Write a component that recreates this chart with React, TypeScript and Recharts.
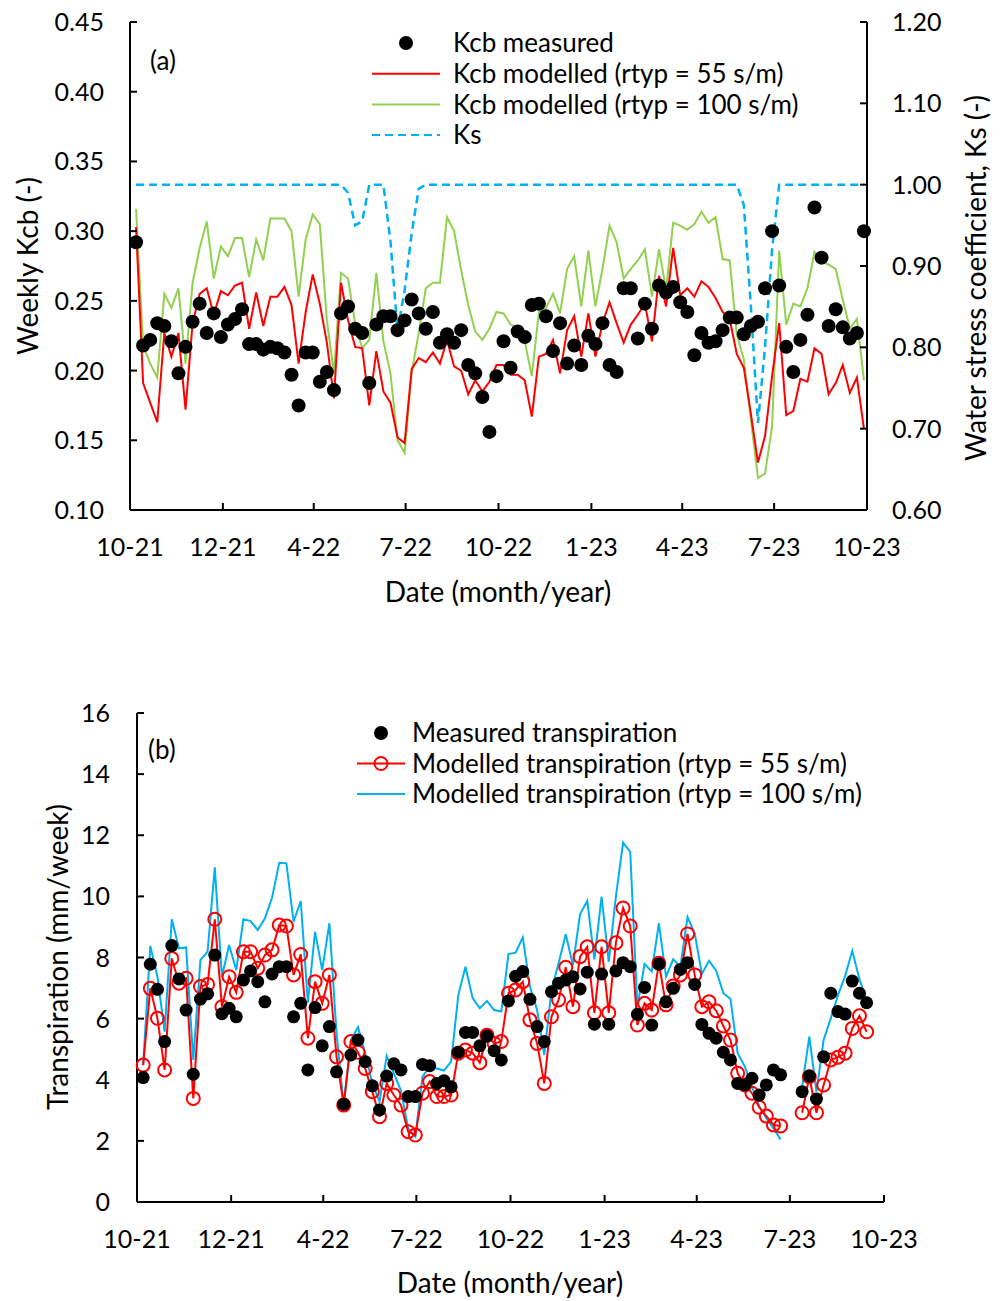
import React from 'react';
import { ComposedChart, Line, XAxis, YAxis, Customized } from 'recharts';

const FONT = 'Lato, "Open Sans", sans-serif';

// x axis is in days since 1 Oct 2021, quarterly ticks
const dateTicks = [0, 92, 182, 273, 365, 457, 547, 638, 730];
const dateLabels = ['10-21', '12-21', '4-22', '7-22', '10-22', '1-23', '4-23', '7-23', '10-23'];
const firstDay = 6; // first weekly value

// panel (a): weekly Kcb
const kcbTicks = [0.1, 0.15, 0.2, 0.25, 0.3, 0.35, 0.4, 0.45];
const ksTicks = [0.6, 0.7, 0.8, 0.9, 1.0, 1.1, 1.2];

const kcbMeasured = [
  0.292, 0.218, 0.222, 0.234, 0.232, 0.221, 0.198, 0.217, 0.235, 0.248,
  0.227, 0.241, 0.224, 0.233, 0.237, 0.244, 0.219, 0.219, 0.215, 0.217,
  0.216, 0.213, 0.197, 0.175, 0.213, 0.213, 0.192, 0.199, 0.186, 0.241,
  0.246, 0.230, 0.227, 0.191, 0.233, 0.239, 0.239, 0.229, 0.236, 0.251,
  0.241, 0.230, 0.242, 0.220, 0.226, 0.220, 0.229, 0.204, 0.198, 0.181,
  0.156, 0.196, 0.221, 0.202, 0.228, 0.224, 0.247, 0.248, 0.239, 0.214,
  0.234, 0.205, 0.218, 0.204, 0.225, 0.219, 0.234, 0.204, 0.199, 0.259,
  0.259, 0.223, 0.248, 0.230, 0.261, 0.256, 0.260, 0.249, 0.242, 0.211,
  0.227, 0.220, 0.221, 0.229, 0.238, 0.238, 0.226, 0.232, 0.235, 0.259,
  0.300, 0.261, 0.217, 0.199, 0.222, 0.240, 0.317, 0.281, 0.232, 0.244,
  0.231, 0.223, 0.227, 0.300,
];

const kcbModel55 = [
  0.303, 0.191, 0.177, 0.163, 0.227, 0.210, 0.227, 0.172, 0.234, 0.255,
  0.259, 0.240, 0.257, 0.254, 0.261, 0.263, 0.230, 0.256, 0.232, 0.253,
  0.253, 0.260, 0.247, 0.205, 0.242, 0.269, 0.248, 0.220, 0.180, 0.263,
  0.236, 0.217, 0.216, 0.175, 0.214, 0.185, 0.177, 0.152, 0.148, 0.201,
  0.209, 0.206, 0.213, 0.205, 0.222, 0.203, 0.200, 0.183, 0.193, 0.185,
  0.192, 0.204, 0.204, 0.197, 0.197, 0.193, 0.167, 0.210, 0.212, 0.222,
  0.198, 0.229, 0.239, 0.210, 0.241, 0.210, 0.234, 0.249, 0.234, 0.220,
  0.233, 0.240, 0.248, 0.221, 0.268, 0.246, 0.288, 0.254, 0.259, 0.253,
  0.264, 0.260, 0.252, 0.242, 0.237, 0.212, 0.202, 0.169, 0.134, 0.153,
  0.196, 0.234, 0.168, 0.171, 0.194, 0.192, 0.216, 0.212, 0.183, 0.191,
  0.204, 0.184, 0.195, 0.158,
];

const kcbModel100 = [
  0.316, 0.218, 0.205, 0.195, 0.255, 0.245, 0.259, 0.205, 0.263, 0.288,
  0.307, 0.266, 0.289, 0.282, 0.295, 0.295, 0.267, 0.294, 0.279, 0.309,
  0.309, 0.309, 0.300, 0.253, 0.294, 0.312, 0.305, 0.236, 0.198, 0.270,
  0.266, 0.234, 0.216, 0.222, 0.270, 0.221, 0.198, 0.150, 0.141, 0.199,
  0.227, 0.259, 0.263, 0.263, 0.310, 0.300, 0.272, 0.247, 0.228, 0.222,
  0.230, 0.242, 0.241, 0.233, 0.231, 0.221, 0.196, 0.242, 0.245, 0.255,
  0.241, 0.273, 0.282, 0.246, 0.286, 0.246, 0.273, 0.304, 0.292, 0.266,
  0.273, 0.279, 0.287, 0.253, 0.287, 0.258, 0.306, 0.304, 0.301, 0.305,
  0.314, 0.306, 0.310, 0.280, 0.279, 0.226, 0.208, 0.165, 0.123, 0.126,
  0.160, 0.286, 0.233, 0.248, 0.246, 0.259, 0.285, 0.278, 0.276, 0.273,
  0.251, 0.230, 0.237, 0.193,
];

const ksValues = [
  1, 1, 1, 1, 1, 1, 1, 1, 1, 1,
  1, 1, 1, 1, 1, 1, 1, 1, 1, 1,
  1, 1, 1, 1, 1, 1, 1, 1, 1, 1,
  0.99, 0.95, 0.955, 1, 1, 1, 0.93, 0.82, 0.87, 0.94,
  0.995, 1, 1, 1, 1, 1, 1, 1, 1, 1,
  1, 1, 1, 1, 1, 1, 1, 1, 1, 1,
  1, 1, 1, 1, 1, 1, 1, 1, 1, 1,
  1, 1, 1, 1, 1, 1, 1, 1, 1, 1,
  1, 1, 1, 1, 1, 1, 0.975, 0.85, 0.707, 0.8,
  0.92, 1, 1, 1, 1, 1, 1, 1, 1, 1,
  1, 1, 1, 1,
];

// panel (b): weekly transpiration, mm/week (null = no data)
const transTicks = [0, 2, 4, 6, 8, 10, 12, 14, 16];

const transMeasured = [
  4.07, 7.78, 6.96, 5.25, 8.39, 7.30, 6.28, 4.18, 6.64, 6.81,
  8.08, 6.16, 6.34, 6.06, 7.26, 7.56, 7.21, 6.55, 7.46, 7.70,
  7.70, 6.06, 6.50, 4.32, 6.36, 5.11, 5.74, 4.26, 3.20, 4.81,
  5.30, 4.59, 3.80, 3.01, 4.12, 4.52, 4.32, 3.45, 3.45, 4.50,
  4.46, 3.88, 3.97, 3.77, 4.90, 5.55, 5.55, 5.11, 5.43, 4.95,
  4.65, 6.58, 7.39, 7.54, 6.63, 5.74, 5.25, 6.88, 7.16, 7.26,
  7.37, 6.97, 7.52, 5.82, 7.46, 5.82, 7.56, 7.83, 7.70, 6.14,
  7.02, 5.79, 7.79, 6.55, 6.99, 7.61, 7.83, 7.12, 5.81, 5.52,
  5.36, 4.90, 4.65, 3.88, 3.83, 4.05, 3.50, 3.83, 4.32, 4.16,
  null, null, 3.61, 4.12, 3.37, 4.75, 6.83, 6.23, 6.15, 7.23,
  6.83, 6.52,
];

const transModel55 = [
  4.48, 6.99, 6.01, 4.32, 7.97, 7.16, 7.32, 3.39, 7.05, 7.12,
  9.25, 6.39, 7.37, 6.86, 8.19, 8.19, 7.65, 8.08, 8.25, 9.06,
  9.03, 7.43, 8.10, 5.36, 7.21, 6.50, 7.43, 4.75, 3.17, 5.25,
  4.90, 4.37, 3.61, 2.79, 3.88, 3.50, 3.17, 2.30, 2.19, 3.56,
  3.94, 3.45, 3.45, 3.50, 4.87, 4.97, 4.87, 4.56, 5.46, 5.19,
  5.25, 6.83, 6.94, 7.21, 5.96, 5.19, 3.88, 6.06, 6.61, 7.68,
  6.39, 8.03, 8.35, 6.19, 8.35, 6.19, 8.48, 9.62, 9.03, 5.79,
  6.50, 6.28, 7.81, 6.45, 7.07, 7.43, 8.77, 7.43, 6.39, 6.55,
  6.26, 5.76, 5.30, 4.21, 3.83, 3.56, 3.10, 2.81, 2.52, 2.49,
  null, null, 2.92, 4.10, 2.92, 3.83, 4.65, 4.74, 4.87, 5.68,
  6.09, 5.57,
];

const transModel100 = [
  4.48, 8.38, 7.37, 5.57, 9.25, 8.30, 8.33, 4.65, 7.92, 8.19,
  10.95, 7.37, 8.41, 7.59, 9.25, 9.19, 8.90, 9.28, 9.96, 11.10,
  11.08, 9.17, 9.85, 6.52, 8.84, 7.59, 9.12, 5.52, 3.17, 5.30,
  5.72, 4.87, 3.88, 3.28, 4.78, 4.21, 3.64, 2.41, 2.14, 4.10,
  4.43, 4.37, 4.30, 4.59, 6.77, 7.70, 6.67, 6.34, 6.58, 6.28,
  6.23, 8.11, 8.16, 8.66, 7.05, 6.28, 4.81, 6.94, 7.81, 8.76,
  7.75, 9.42, 9.85, 7.94, 9.99, 7.86, 9.99, 11.76, 11.46, 6.39,
  7.79, 7.54, 9.12, 7.37, 7.94, 7.70, 9.32, 8.79, 7.46, 7.89,
  7.57, 6.83, 6.64, 4.87, 4.43, 3.77, 3.14, 2.74, 2.41, 2.05,
  null, null, 3.77, 5.41, 3.61, 5.30, 6.01, 6.77, 7.39, 8.22,
  7.29, 6.61,
];

const weekDay = (i: number) => firstDay + 7 * i;

const kcbData = kcbMeasured.map((v, i) => ({
  day: weekDay(i),
  measured: v,
  r55: kcbModel55[i],
  r100: kcbModel100[i],
  ks: ksValues[i],
}));

const transData = transMeasured.map((v, i) => ({
  day: weekDay(i),
  measured: v,
  r55: transModel55[i],
  r100: transModel100[i],
}));

const TICK_FS = 25;
const TITLE_FS = 28;
const LEGEND_FS = 26;

// ticks drawn inside the plot, labels outside
const DateTick = (props: any) => {
  const { x, y, payload } = props;
  const idx = dateTicks.indexOf(payload.value);
  return (
    <g>
      <line x1={x} y1={y} x2={x} y2={y - 7} stroke="#000" strokeWidth={2} />
      <text x={x} y={y + 46} textAnchor="middle" fontSize={TICK_FS} fontFamily={FONT} fill="#000">
        {dateLabels[idx]}
      </text>
    </g>
  );
};

const LeftTick = (props: any) => {
  const { x, y, payload, digits, gap } = props;
  return (
    <g>
      <line x1={x} y1={y} x2={x + 7} y2={y} stroke="#000" strokeWidth={2} />
      <text x={x - gap} y={y} dy="0.36em" textAnchor="end" fontSize={TICK_FS} fontFamily={FONT} fill="#000">
        {Number(payload.value).toFixed(digits)}
      </text>
    </g>
  );
};

const RightTick = (props: any) => {
  const { x, y, payload } = props;
  return (
    <g>
      <line x1={x} y1={y} x2={x - 7} y2={y} stroke="#000" strokeWidth={2} />
      <text x={x + 25} y={y} dy="0.36em" textAnchor="start" fontSize={TICK_FS} fontFamily={FONT} fill="#000">
        {Number(payload.value).toFixed(2)}
      </text>
    </g>
  );
};

const kcbLegend = [
  { label: 'Kcb measured', kind: 'dot', color: '#000' },
  { label: 'Kcb modelled (rtyp = 55 s/m)', kind: 'line', color: '#FF0000' },
  { label: 'Kcb modelled (rtyp = 100 s/m)', kind: 'line', color: '#92D050' },
  { label: 'Ks', kind: 'dash', color: '#00B0F0' },
];

const transLegend = [
  { label: 'Measured transpiration', kind: 'dot', color: '#000' },
  { label: 'Modelled transpiration (rtyp = 55 s/m)', kind: 'circle', color: '#FF0000' },
  { label: 'Modelled transpiration (rtyp = 100 s/m)', kind: 'line', color: '#00B0F0' },
];

const LegendBlock = ({ items, x0, x1, textX, y0, step }: any) => (
  <g>
    {items.map((it: any, i: number) => {
      const y = y0 + i * step;
      const cx = (x0 + x1) / 2;
      return (
        <g key={it.label}>
          {it.kind === 'dot' && <circle cx={cx} cy={y} r={7} fill={it.color} />}
          {it.kind !== 'dot' && (
            <line x1={x0} y1={y} x2={x1} y2={y} stroke={it.color} strokeWidth={2}
              strokeDasharray={it.kind === 'dash' ? '8 5' : undefined} />
          )}
          {it.kind === 'circle' && <circle cx={cx} cy={y} r={6.5} fill="none" stroke={it.color} strokeWidth={2} />}
          <text x={textX} y={y} dy="0.36em" fontSize={LEGEND_FS} fontFamily={FONT} fill="#000">{it.label}</text>
        </g>
      );
    })}
  </g>
);

const KcbOverlay = () => (
  <g fontFamily={FONT} fill="#000">
    <text x={150} y={61} dy="0.36em" fontSize={LEGEND_FS}>(a)</text>
    <text transform="translate(27,266) rotate(-90)" textAnchor="middle" dominantBaseline="central" fontSize={TITLE_FS}>
      Weekly Kcb (-)
    </text>
    <text transform="translate(975,278) rotate(-90)" textAnchor="middle" dominantBaseline="central" fontSize={TITLE_FS}>
      Water stress coefficient, Ks (-)
    </text>
    <text x={498} y={592} dy="0.36em" textAnchor="middle" fontSize={TITLE_FS}>Date (month/year)</text>
    <LegendBlock items={kcbLegend} x0={372} x1={440} textX={453} y0={43} step={30.7} />
  </g>
);

const TransOverlay = () => (
  <g fontFamily={FONT} fill="#000">
    <text x={148} y={110} dy="0.36em" fontSize={LEGEND_FS}>(b)</text>
    <text transform="translate(57,317) rotate(-90)" textAnchor="middle" dominantBaseline="central" fontSize={TITLE_FS}>
      Transpiration (mm/week)
    </text>
    <text x={510} y={643} dy="0.36em" textAnchor="middle" fontSize={TITLE_FS}>Date (month/year)</text>
    <LegendBlock items={transLegend} x0={357} x1={405} textX={412} y0={93} step={30.5} />
  </g>
);

const axisLine = { stroke: '#000', strokeWidth: 2 };

const KcbChart = () => (
  <ComposedChart width={1001} height={620} data={kcbData} margin={{ top: 22, right: 64, bottom: 70, left: 60 }}>
    <XAxis dataKey="day" type="number" domain={[0, 730]} ticks={dateTicks} interval={0}
      tick={<DateTick />} tickLine={false} tickSize={0} tickMargin={0} axisLine={axisLine} height={40} />
    <XAxis xAxisId="top" orientation="top" height={0} tick={false} tickLine={false} axisLine={axisLine} />
    <YAxis yAxisId="kcb" domain={[0.1, 0.45]} ticks={kcbTicks} interval={0} width={70}
      tick={<LeftTick digits={2} gap={26} />} tickLine={false} tickSize={0} tickMargin={0} axisLine={axisLine} />
    <YAxis yAxisId="ks" orientation="right" domain={[0.6, 1.2]} ticks={ksTicks} interval={0} width={70}
      tick={<RightTick />} tickLine={false} tickSize={0} tickMargin={0} axisLine={axisLine} />
    <Line yAxisId="ks" dataKey="ks" stroke="#00B0F0" strokeWidth={2.5} strokeDasharray="8 5" dot={false} isAnimationActive={false} />
    <Line yAxisId="kcb" dataKey="r100" stroke="#92D050" strokeWidth={2} dot={false} isAnimationActive={false} />
    <Line yAxisId="kcb" dataKey="r55" stroke="#FF0000" strokeWidth={2} dot={false} isAnimationActive={false} />
    <Line yAxisId="kcb" dataKey="measured" stroke="none" activeDot={false}
      dot={{ r: 7, fill: '#000', stroke: '#000', strokeWidth: 0 }} isAnimationActive={false} />
    <Customized component={KcbOverlay} />
  </ComposedChart>
);

const TransChart = () => (
  <ComposedChart width={1001} height={661} data={transData} margin={{ top: 73, right: 117, bottom: 59, left: 67 }}>
    <XAxis dataKey="day" type="number" domain={[0, 730]} ticks={dateTicks} interval={0}
      tick={<DateTick />} tickLine={false} tickSize={0} tickMargin={0} axisLine={axisLine} height={40} />
    <XAxis xAxisId="top" orientation="top" height={0} tick={false} tickLine={false} axisLine={axisLine} />
    <YAxis domain={[0, 16]} ticks={transTicks} interval={0} width={70}
      tick={<LeftTick digits={0} gap={27} />} tickLine={false} tickSize={0} tickMargin={0} axisLine={axisLine} />
    <YAxis yAxisId="frame" orientation="right" width={0} tick={false} tickLine={false} axisLine={axisLine} />
    <Line dataKey="r100" stroke="#00B0F0" strokeWidth={2} dot={false} isAnimationActive={false} />
    <Line dataKey="r55" stroke="#FF0000" strokeWidth={2} activeDot={false}
      dot={{ r: 6.5, fill: 'none', stroke: '#FF0000', strokeWidth: 2 }} isAnimationActive={false} />
    <Line dataKey="measured" stroke="none" activeDot={false}
      dot={{ r: 6.5, fill: '#000', stroke: '#000', strokeWidth: 0 }} isAnimationActive={false} />
    <Customized component={TransOverlay} />
  </ComposedChart>
);

export default function App() {
  return (
    <div style={{ position: 'absolute', left: 0, top: 0, width: 1001, height: 1301, background: '#fff' }}>
      <div style={{ position: 'absolute', left: 0, top: 0 }}>
        <KcbChart />
      </div>
      <div style={{ position: 'absolute', left: 0, top: 640 }}>
        <TransChart />
      </div>
    </div>
  );
}
